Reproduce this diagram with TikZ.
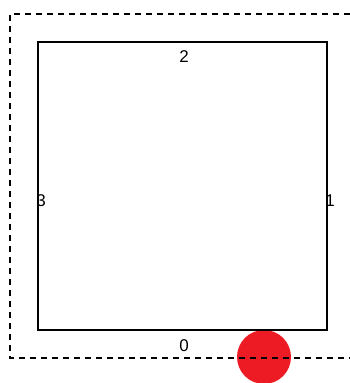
\documentclass[tikz,border=0pt]{standalone}
\usepackage{fontspec}
\setmainfont{Liberation Sans}
\definecolor{dotred}{RGB}{237,28,36}
\begin{document}
\begin{tikzpicture}[x=1pt,y=-1pt,
  lbl/.style={inner sep=0pt,font=\fontsize{17}{17}\selectfont},
  dashbox/.style={line width=1.5pt,dash pattern=on 6pt off 5pt},
  sq/.style={line width=1.6pt}]
\useasboundingbox (0,0) rectangle (350,383);
\fill[dotred] (264,357) circle (27);
\node[sq, draw, minimum width=289pt, minimum height=288pt, inner sep=0pt] (sqr) at (182.5,186) {};
\coordinate (dtr) at (350,14);
\coordinate (dtl) at (10,14);
\coordinate (dbl) at (10,358);
\coordinate (dbr) at (350,358);
\draw[dashbox] (dtr) -- (dtl) -- (dbl) -- (dbr);
\node[lbl] (l2) at (184,57) {2};
\node[lbl] (l3) at (41,201) {3};
\node[lbl] (l1) at (330,201) {1};
\node[lbl] (l0) at (184,346) {0};
\end{tikzpicture}
\end{document}
